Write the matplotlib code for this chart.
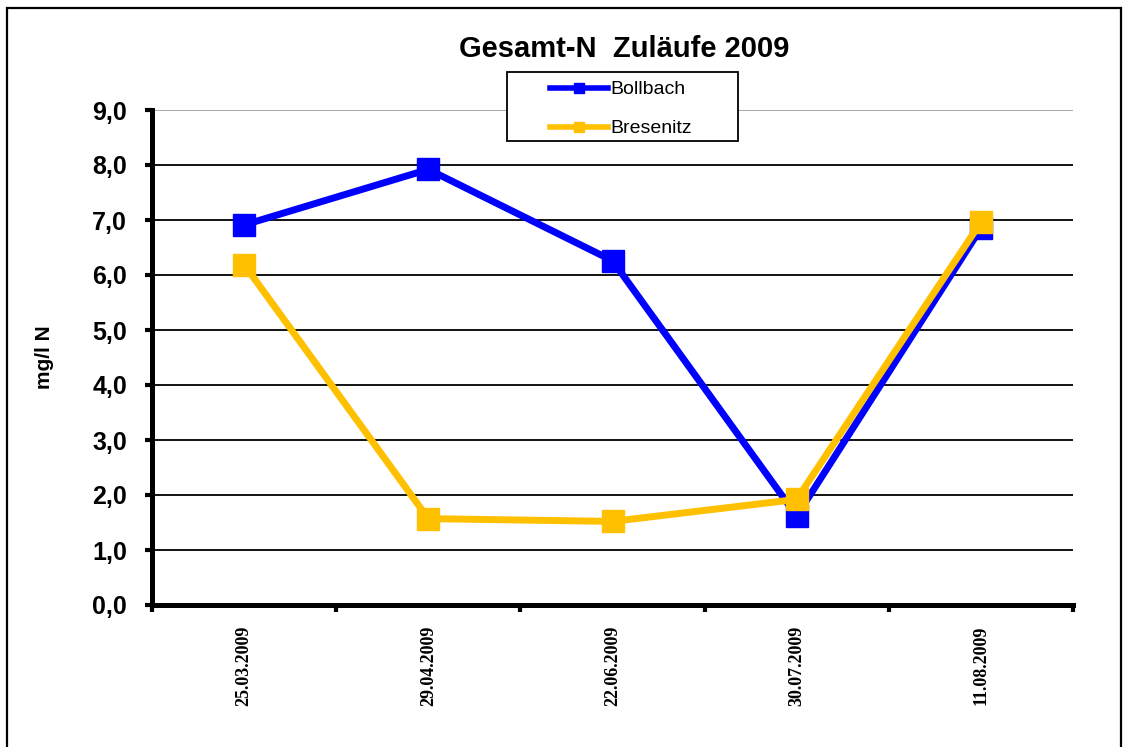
import matplotlib
matplotlib.use('Agg')
import matplotlib.pyplot as plt
from matplotlib.patches import Rectangle

dates = ['25.03.2009', '29.04.2009', '22.06.2009', '30.07.2009', '11.08.2009']
bollbach = [6.91, 7.92, 6.26, 1.62, 6.85]
bresenitz = [6.19, 1.57, 1.52, 1.92, 6.96]
y_ticks = [0, 1, 2, 3, 4, 5, 6, 7, 8, 9]

W, H = 1129, 747
fig = plt.figure(figsize=(W / 100, H / 100), dpi=100)
fig.patch.set_facecolor('white')

# outer chart frame
fig.add_artist(Rectangle((7 / W, -0.01), (1121 - 7) / W, 1 - 8 / H + 0.01,
                         transform=fig.transFigure, fill=False,
                         edgecolor='black', linewidth=1.6))

ax = fig.add_axes([152 / W, (H - 605) / H, (1073 - 152) / W, (605 - 110) / H])
x = list(range(len(dates)))

for v in y_ticks[1:]:
    ax.axhline(v, color='#a0a0a0' if v == 9 else 'black', linewidth=1.3, zorder=1)

ax.plot(x, bollbach, color='#0000ff', linewidth=5, marker='s', markersize=16,
        label='Bollbach', zorder=3)
ax.plot(x, bresenitz, color='#ffc000', linewidth=5, marker='s', markersize=16,
        label='Bresenitz', zorder=4)

ax.set_xlim(-0.5, 4.5)
ax.set_ylim(0, 9)
for s in ['top', 'right']:
    ax.spines[s].set_visible(False)
for s in ['left', 'bottom']:
    ax.spines[s].set_linewidth(3.6)

ax.set_yticks(y_ticks)
ax.set_yticklabels([f'{v:.1f}'.replace('.', ',') for v in y_ticks],
                   fontfamily='Liberation Sans', fontweight='bold', fontsize=18)
ax.tick_params(axis='y', direction='out', length=5, width=3, pad=13)

ax.set_xticks(x)
ax.set_xticklabels(dates, rotation=90, fontfamily='Liberation Serif',
                   fontweight='bold', fontsize=13, va='top')
ax.tick_params(axis='x', which='major', length=0, pad=15)
ax.set_xticks([i - 0.5 for i in range(len(dates) + 1)], minor=True)
ax.tick_params(axis='x', which='minor', direction='out', length=5, width=3)

fig.text(45 / W, 1 - 357 / H, 'mg/l N', rotation=90, ha='center', va='center',
         fontfamily='Liberation Sans', fontweight='bold', fontsize=15)
fig.text(624 / W, 1 - 49 / H, 'Gesamt-N  Zuläufe 2009', ha='center', va='center',
         fontfamily='Liberation Sans', fontweight='bold', fontsize=21)

# legend box drawn separately, entries placed inside without a frame
fig.add_artist(Rectangle((507 / W, 1 - 141 / H), (738 - 507) / W, (141 - 72) / H,
                         transform=fig.transFigure, facecolor='white',
                         edgecolor='black', linewidth=1.3, zorder=5))
leg = fig.legend(handles=ax.get_lines()[-2:], loc='upper left',
                 bbox_to_anchor=(542 / W, 1 - 73 / H),
                 prop={'family': 'Liberation Sans', 'size': 14}, frameon=False,
                 handlelength=3.0, handletextpad=0.1, borderpad=0.4,
                 labelspacing=1.1, markerscale=0.45, borderaxespad=0)
leg.set_zorder(6)
for line in leg.get_lines():
    line.set_linewidth(4)

fig.savefig('out.png', dpi=100)
